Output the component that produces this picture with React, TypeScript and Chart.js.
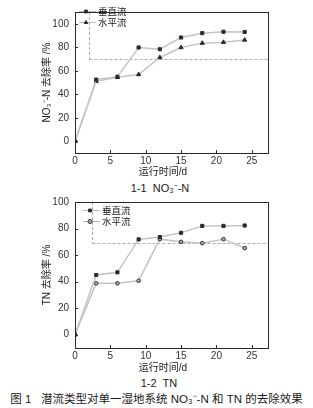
import React, { useEffect, useRef } from 'react';
import { Chart, registerables } from 'chart.js';
import { drawPoint } from 'chart.js/helpers';

Chart.register(...registerables);

// ---------- data ----------
const days = [0, 3, 6, 9, 12, 15, 18, 21, 24];
const seriesNames = ['垂直流', '水平流'];
const no3Vertical = [0, 52.5, 54.8, 79.8, 78.3, 88.3, 92, 93.2, 93];
const no3Horizontal = [0, 51, 54.5, 56.8, 71.3, 79.8, 83.5, 84.3, 86.2];
const tnVertical = [0, 45, 47, 71.8, 73.6, 76.8, 82, 82, 82.3];
const tnHorizontal = [0, 38.7, 38.7, 40.7, 72, 70, 69, 72, 65.3];
const xTicks = [0, 5, 10, 15, 20, 25];
const yTicks = [0, 20, 40, 60, 80, 100];
const no3Ref = { x: 2, y: 69.6 };
const tnRef = { x: 2.4, y: 69.2 };
const xTitle = '运行时间/d';
const no3YTitle = 'NO₃⁻-N 去除率 /%';
const tnYTitle = 'TN 去除率 /%';
const no3Sub = '1-1  NO₃⁻-N';
const tnSub = '1-2  TN';
const figCaption = '图 1   潜流类型对单一湿地系统 NO₃⁻-N 和 TN 的去除效果';

const FONT = '"Liberation Sans", "Noto Sans CJK SC", Arial, sans-serif';

const decoPlugin = {
  id: 'deco',
  beforeDatasetsDraw(chart: any, _a: any, o: any) {
    const { ctx, chartArea: a, scales } = chart;
    const px = Math.round(scales.x.getPixelForValue(o.refX)) + 0.5;
    const py = Math.round(scales.y.getPixelForValue(o.refY)) + 0.5;
    ctx.save();
    ctx.strokeStyle = '#acacac';
    ctx.lineWidth = 1;
    ctx.setLineDash([3, 2]);
    ctx.beginPath();
    ctx.moveTo(px, a.top);
    ctx.lineTo(px, py);
    ctx.moveTo(px, py);
    ctx.lineTo(a.right, py);
    ctx.stroke();
    ctx.restore();
  },
  afterDraw(chart: any, _a: any, o: any) {
    const { ctx, chartArea: a, scales } = chart;
    ctx.save();
    ctx.strokeStyle = '#2a2a2a';
    ctx.lineWidth = 1;
    ctx.strokeRect(Math.round(a.left) + 0.5, Math.round(a.top) + 0.5, Math.round(a.right - a.left), Math.round(a.bottom - a.top));
    ctx.beginPath();
    scales.x.ticks.forEach((t: any) => {
      const x = Math.round(scales.x.getPixelForValue(t.value)) + 0.5;
      ctx.moveTo(x, a.bottom);
      ctx.lineTo(x, a.bottom - 3);
    });
    scales.y.ticks.forEach((t: any) => {
      const y = Math.round(scales.y.getPixelForValue(t.value)) + 0.5;
      ctx.moveTo(a.left, y);
      ctx.lineTo(a.left + 3, y);
    });
    ctx.stroke();
    // x-axis title
    ctx.fillStyle = '#222';
    ctx.font = '10px ' + FONT;
    ctx.textAlign = 'center';
    ctx.textBaseline = 'middle';
    ctx.fillText(o.xTitle, o.xTitleX, a.bottom + o.xTitleDy);
    // legend
    chart.data.datasets.forEach((ds: any, i: number) => {
      const y = o.legendY[i];
      const x0 = o.legendX;
      ctx.strokeStyle = '#b8b8b8';
      ctx.lineWidth = 1;
      ctx.beginPath();
      ctx.moveTo(x0, y + 0.5);
      ctx.lineTo(x0 + 17, y + 0.5);
      ctx.stroke();
      ctx.fillStyle = ds.pointBackgroundColor;
      ctx.strokeStyle = '#2a2a2a';
      drawPoint(ctx, { pointStyle: ds.pointStyle, radius: 2, rotation: 0, borderWidth: 1 } as any, x0 + 7, y + 0.5);
      ctx.fillStyle = '#1a1a1a';
      ctx.font = '9.5px ' + FONT;
      ctx.textBaseline = 'middle';
      ctx.textAlign = 'left';
      ctx.fillText(ds.label, x0 + 19, y + 1);
    });
    ctx.restore();
  },
};

type PanelProps = {
  top: number;
  height: number;
  padTop: number;
  yMin: number;
  yMax: number;
  v: number[];
  h: number[];
  vStyle: string;
  hStyle: string;
  hFill: string;
  refPt: { x: number; y: number };
  yTitle: string;
  legendX: number;
  legendY: number[];
  xTitleDy: number;
};

function Panel(p: PanelProps) {
  const ref = useRef<HTMLCanvasElement>(null);
  useEffect(() => {
    const mk = (label: string, vals: number[], style: string, r: number, fill: string) => ({
      label,
      data: days.map((d, i) => ({ x: d, y: vals[i] })),
      borderColor: '#c4c4c4',
      borderWidth: 1.5,
      tension: 0,
      pointStyle: style,
      pointRadius: r,
      pointBackgroundColor: fill,
      pointBorderColor: '#2a2a2a',
      pointBorderWidth: 1,
    });
    const chart = new Chart(ref.current as HTMLCanvasElement, {
      type: 'line',
      data: {
        datasets: [
          mk(seriesNames[0], p.v, p.vStyle, 2.2, '#2a2a2a'),
          mk(seriesNames[1], p.h, p.hStyle, p.hStyle === 'circle' ? 1.8 : 2.4, p.hFill),
        ],
      } as any,
      options: {
        responsive: false,
        animation: false,
        devicePixelRatio: 1,
        layout: { padding: { left: 0, top: p.padTop, right: 45, bottom: 0 } },
        plugins: {
          legend: { display: false },
          tooltip: { enabled: false },
          deco: {
            refX: p.refPt.x,
            refY: p.refPt.y,
            legendX: p.legendX,
            legendY: p.legendY,
            xTitle,
            xTitleX: 163,
            xTitleDy: p.xTitleDy,
          },
        } as any,
        scales: {
          x: {
            type: 'linear',
            min: 0,
            max: 27.3,
            afterBuildTicks: (s: any) => {
              s.ticks = xTicks.map((value) => ({ value }));
            },
            afterFit: (s: any) => {
              s.height = 27;
            },
            grid: { display: false, drawTicks: false, tickLength: 0 },
            border: { display: false },
            ticks: { padding: 2, color: '#333', font: { family: FONT, size: 10 } },
          },
          y: {
            type: 'linear',
            min: p.yMin,
            max: p.yMax,
            afterBuildTicks: (s: any) => {
              s.ticks = yTicks.map((value) => ({ value }));
            },
            afterFit: (s: any) => {
              s.width = 75;
            },
            grid: { display: false, drawTicks: false, tickLength: 0 },
            border: { display: false },
            ticks: { padding: 6, color: '#333', font: { family: FONT, size: 10 } },
            title: {
              display: true,
              text: p.yTitle,
              color: '#222',
              padding: { top: 41, bottom: 0 },
              font: { family: FONT, size: 10 },
            },
          },
        },
      } as any,
      plugins: [decoPlugin as any],
    });
    return () => chart.destroy();
  }, []);
  return (
    <canvas
      ref={ref}
      width={313}
      height={p.height}
      style={{ position: 'absolute', left: 0, top: p.top, width: 313, height: p.height }}
    />
  );
}

const textStyle = (top: number, size: number, left = 0, width = 313): React.CSSProperties => ({
  position: 'absolute',
  left,
  width,
  top,
  textAlign: 'center',
  fontFamily: FONT,
  fontSize: size,
  lineHeight: '14px',
  color: '#1a1a1a',
  whiteSpace: 'pre',
});

export default function App() {
  useEffect(() => {
    document.body.style.margin = '0';
  }, []);
  return (
    <div style={{ position: 'relative', width: 313, height: 408, background: '#fff', overflow: 'hidden' }}>
      <Panel
        top={0}
        height={180}
        padTop={3}
        yMin={-10}
        yMax={110}
        v={no3Vertical}
        h={no3Horizontal}
        vStyle="rect"
        hStyle="triangle"
        hFill="#2a2a2a"
        refPt={no3Ref}
        yTitle={no3YTitle}
        legendX={79}
        legendY={[11, 22]}
        xTitleDy={19}
      />
      <div style={textStyle(181, 11, 0, 320)}>{no3Sub}</div>
      <Panel
        top={190}
        height={185}
        padTop={10}
        yMin={-10}
        yMax={100}
        v={tnVertical}
        h={tnHorizontal}
        vStyle="rect"
        hStyle="circle"
        hFill="#b0b0b0"
        refPt={tnRef}
        yTitle={tnYTitle}
        legendX={83}
        legendY={[20, 31]}
        xTitleDy={20}
      />
      <div style={textStyle(376, 11, 0, 318)}>{tnSub}</div>
      <div style={textStyle(392, 11.5)}>{figCaption}</div>
    </div>
  );
}
